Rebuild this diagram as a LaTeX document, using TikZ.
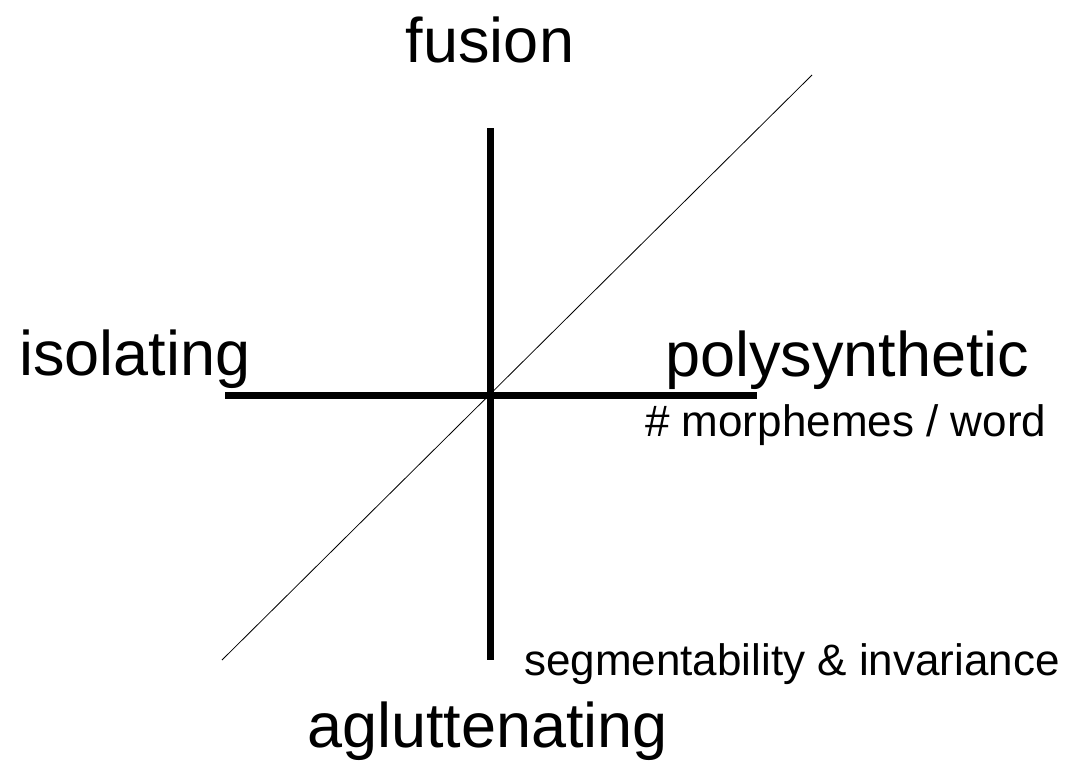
\documentclass[tikz,border=0pt]{standalone}
\usepackage{fontspec}
\setmainfont{Liberation Sans}
\begin{document}
\begin{tikzpicture}[x=1pt,y=-1pt,
  big/.style={inner sep=0pt,font=\fontsize{63}{70}\selectfont},
  small/.style={inner sep=0pt,font=\fontsize{44}{50}\selectfont},
  axis/.style={line width=7pt},
  diag/.style={line width=0.8pt}]
\useasboundingbox (0,0) rectangle (1070,779);
\coordinate (vt) at (490,128);
\coordinate (vb) at (490,660);
\coordinate (hl) at (225,395);
\coordinate (hr) at (757,395);
\coordinate (dl) at (222,660);
\coordinate (dr) at (812,75);
\draw[diag] (dl) -- (dr);
\draw[axis] (vt) -- (vb);
\draw[axis] (hl) -- (hr);
\node[big,anchor=base] (fusion) at (490,62) {fusion};
\node[big,anchor=base west] (iso) at (19,375) {isolating};
\node[big,anchor=base west] (poly) at (665,376) {polysynthetic};
\node[small,anchor=base west] (morph) at (645,436) {\# morphemes / word};
\node[small,anchor=base west] (seg) at (524,675) {segmentability \& invariance};
\node[big,anchor=base west] (agl) at (307,747) {agluttenating};
\end{tikzpicture}
\end{document}
